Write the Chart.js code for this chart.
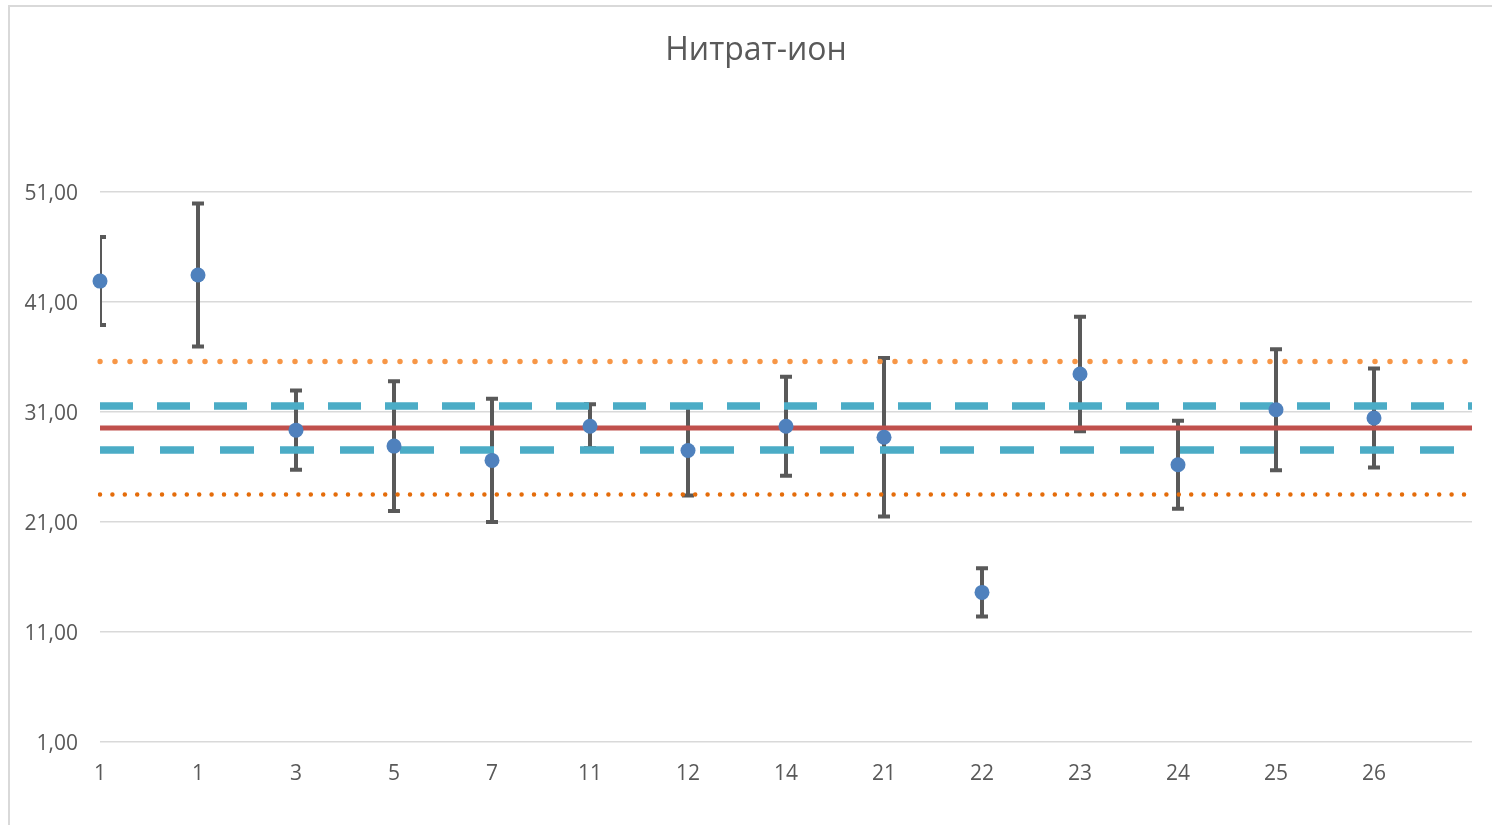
<!DOCTYPE html>
<html>
<head>
<meta charset="utf-8">
<title>Нитрат-ион</title>
<script src="https://cdn.jsdelivr.net/npm/chart.js@4.4.1/dist/chart.umd.min.js"></script>
<style>
    body { margin: 0; background: #fff; overflow: hidden; }
    #wrap { position: relative; width: 1492px; height: 825px; }
    #frame {
        position: absolute; left: 8px; top: 5px; right: -10px; bottom: -10px;
        border-left: 2px solid #d9d9d9; border-top: 2px solid #d9d9d9;
        pointer-events: none;
    }
    canvas { position: absolute; left: 0; top: 0; }
</style>
</head>
<body>
<div id="wrap">
    <canvas id="chart" width="1492" height="825"></canvas>
    <div id="frame"></div>
</div>
<script>
// Sample numbers on the x axis (last slot is empty)
const categories = ['1', '1', '3', '5', '7', '11', '12', '14', '21', '22', '23', '24', '25', '26', ''];
// Measured values and their error (±)
const values = [42.9, 43.45, 29.35, 27.9, 26.6, 29.7, 27.5, 29.7, 28.7, 14.6, 34.45, 26.2, 31.2, 30.45];
const errors = [4.0, 6.5, 3.6, 5.9, 5.6, 2.0, 4.1, 4.5, 7.2, 2.2, 5.2, 4.0, 5.5, 4.5];
// Reference lines
const meanValue = 29.55;
const innerUpper = 31.55;
const innerLower = 27.55;
const outerUpper = 35.6;
const outerLower = 23.5;
// Y axis ticks
const yTicks = [1, 11, 21, 31, 41, 51];
const yMin = 1;
const yMax = 61;
const chartTitle = 'Нитрат-ион';

const flat = v => categories.map(() => v);

// Draws vertical error bars with caps under the datasets
const errorBarPlugin = {
    id: 'errorBars',
    beforeDatasetsDraw(chart) {
        const ctx = chart.ctx;
        const area = chart.chartArea;
        const x = chart.scales.x;
        const y = chart.scales.y;
        ctx.save();
        ctx.beginPath();
        ctx.rect(area.left, area.top, area.right - area.left, area.bottom - area.top);
        ctx.clip();
        ctx.strokeStyle = '#595959';
        ctx.lineWidth = 4;
        values.forEach((v, i) => {
            const px = x.getPixelForValue(i);
            const top = y.getPixelForValue(v + errors[i]);
            const bottom = y.getPixelForValue(v - errors[i]);
            ctx.beginPath();
            ctx.moveTo(px, top);
            ctx.lineTo(px, bottom);
            ctx.moveTo(px - 6, top);
            ctx.lineTo(px + 6, top);
            ctx.moveTo(px - 6, bottom);
            ctx.lineTo(px + 6, bottom);
            ctx.stroke();
        });
        ctx.restore();
    }
};

// Title centred over the whole chart box (which runs past the window edge)
const titlePlugin = {
    id: 'boxTitle',
    afterDraw(chart) {
        const ctx = chart.ctx;
        ctx.save();
        ctx.font = '32px "Open Sans"';
        ctx.fillStyle = '#595959';
        ctx.textAlign = 'center';
        ctx.textBaseline = 'middle';
        ctx.fillText(chartTitle, 756, 51);
        ctx.restore();
    }
};

const refLine = (data, color, width, dash, cap) => ({
    data: data,
    borderColor: color,
    borderWidth: width,
    borderDash: dash,
    borderCapStyle: cap,
    pointRadius: 0,
    fill: false,
    tension: 0
});

const ctx = document.getElementById('chart').getContext('2d');
new Chart(ctx, {
    type: 'line',
    data: {
        labels: categories,
        datasets: [
            {
                data: values,
                showLine: false,
                pointRadius: 7.5,
                pointHoverRadius: 7.5,
                pointBackgroundColor: '#4f81bd',
                pointBorderColor: '#4f81bd',
                pointBorderWidth: 0,
                clip: false
            },
            refLine(flat(meanValue), '#c0504d', 5, [], 'butt'),
            refLine(flat(innerUpper), '#4bacc6', 7.5, [33, 24], 'butt'),
            refLine(flat(innerLower), '#4bacc6', 7.5, [34, 26], 'butt'),
            refLine(flat(outerUpper), '#f79646', 5.5, [0, 15], 'round'),
            refLine(flat(outerLower), '#e46c0a', 4.5, [0, 12.4], 'round')
        ]
    },
    options: {
        responsive: false,
        animation: false,
        events: [],
        layout: { padding: { top: 82, right: 20, bottom: 0, left: 0 } },
        plugins: {
            legend: { display: false },
            tooltip: { enabled: false },
            title: { display: false }
        },
        scales: {
            x: {
                type: 'category',
                offset: false,
                grid: { display: false, drawTicks: false },
                border: { display: false },
                ticks: {
                    color: '#595959',
                    font: { family: 'Open Sans', size: 21 },
                    padding: 19,
                    maxRotation: 0,
                    autoSkip: false
                },
                afterFit(scale) { scale.height = 83; }
            },
            y: {
                min: yMin,
                max: yMax,
                grid: { color: '#d9d9d9', lineWidth: 1.5, drawTicks: false },
                border: { display: false },
                ticks: {
                    color: '#595959',
                    font: { family: 'Open Sans', size: 21 },
                    padding: 22,
                    labelOffset: 2,
                    callback: v => v.toFixed(2).replace('.', ',')
                },
                afterBuildTicks(scale) { scale.ticks = yTicks.map(v => ({ value: v })); },
                afterFit(scale) { scale.width = 100; }
            }
        }
    },
    plugins: [errorBarPlugin, titlePlugin]
});
</script>
</body>
</html>
